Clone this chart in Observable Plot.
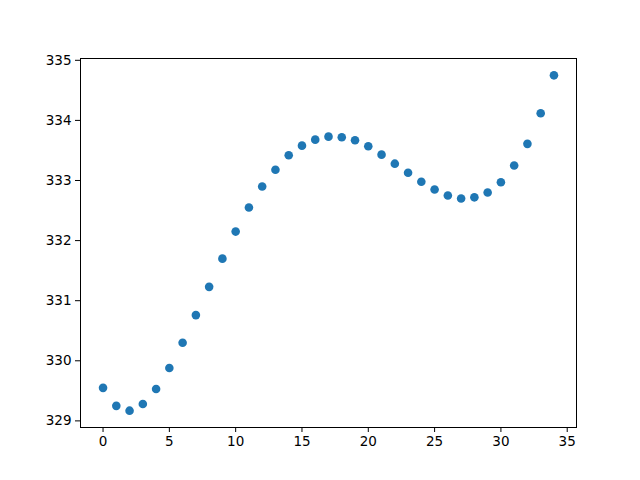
<!DOCTYPE html>
<html>
<head>
<meta charset="utf-8">
<script src="https://cdn.jsdelivr.net/npm/d3@7"></script>
<script src="https://cdn.jsdelivr.net/npm/@observablehq/plot@0.6"></script>
<style>
  html, body { margin: 0; padding: 0; background: #fff; }
  #chart svg { display: block; }
</style>
</head>
<body>
<div id="chart"></div>
<script>
const xs = d3.range(0, 35);
const ys = [
  329.55, 329.25, 329.17, 329.28, 329.53, 329.88, 330.30, 330.76, 331.23, 331.70,
  332.15, 332.55, 332.90, 333.18, 333.42, 333.58, 333.68, 333.73, 333.72, 333.67,
  333.57, 333.43, 333.28, 333.13, 332.98, 332.85, 332.75, 332.70, 332.72, 332.80,
  332.97, 333.25, 333.61, 334.12, 334.75
];
const xTicks = [0, 5, 10, 15, 20, 25, 30, 35];
const yTicks = [329, 330, 331, 332, 333, 334, 335];

const data = xs.map((x, i) => ({x, y: ys[i]}));

const chart = Plot.plot({
  width: 640,
  height: 480,
  marginLeft: 80,
  marginRight: 64,
  marginTop: 58,
  marginBottom: 53,
  style: {fontFamily: "DejaVu Sans", fontSize: "13.5px", color: "black", background: "white"},
  x: {domain: [-1.7, 35.7]},
  y: {domain: [328.89, 335.03]},
  marks: [
    Plot.frame({stroke: "black", strokeWidth: 1}),
    Plot.axisX({ticks: xTicks, tickFormat: d => String(d), tickSize: 5, tickPadding: 4, label: null, fontSize: 13.5}),
    Plot.axisY({ticks: yTicks, tickFormat: d => String(d), tickSize: 5, tickPadding: 4, label: null, fontSize: 13.5}),
    Plot.dot(data, {x: "x", y: "y", r: 4.3, fill: "#1f77b4", stroke: "none"})
  ]
});
document.getElementById("chart").appendChild(chart);
</script>
</body>
</html>
